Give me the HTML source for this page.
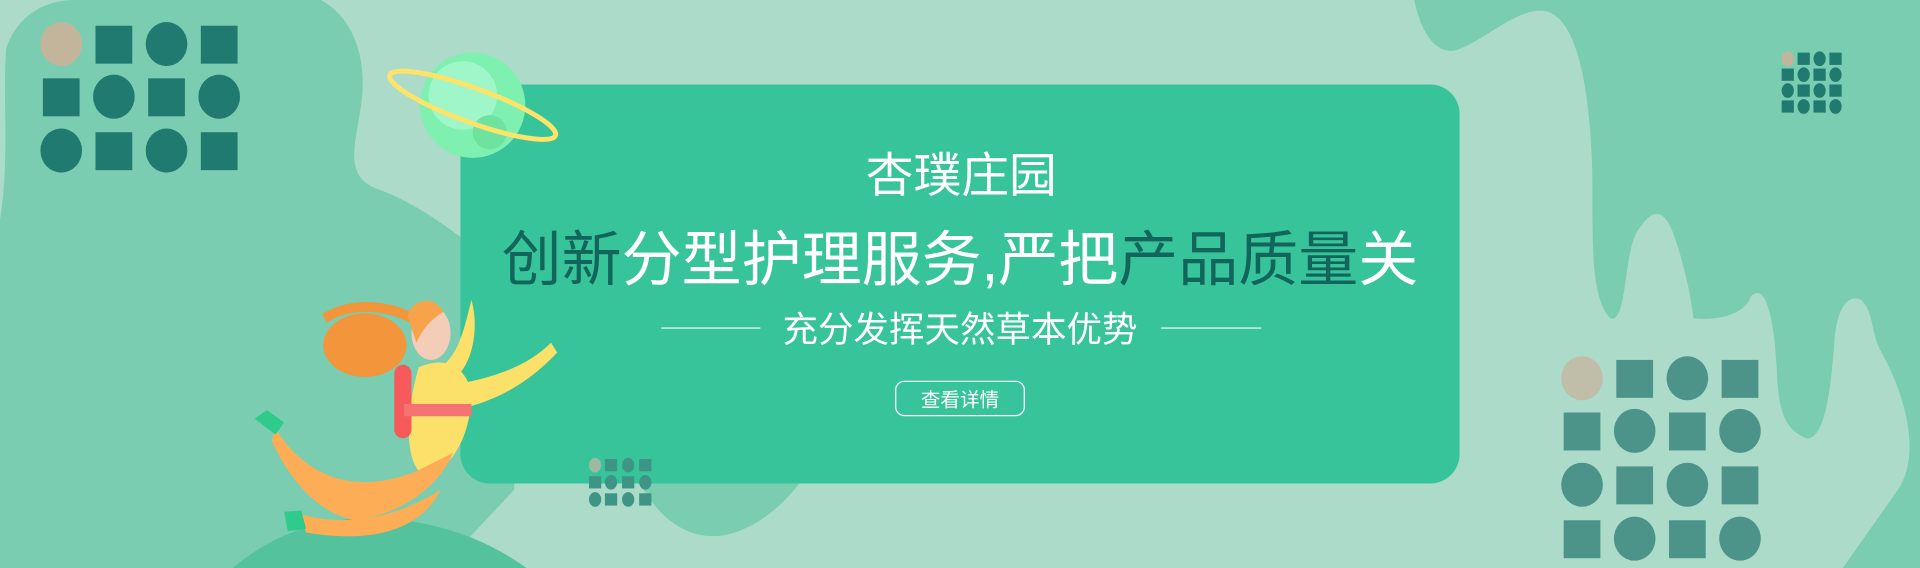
<!DOCTYPE html>
<html><head><meta charset="utf-8"><style>
html,body{margin:0;padding:0;width:1920px;height:568px;overflow:hidden;background:#acdbc9}
svg{display:block}
text{font-family:"Liberation Sans","Noto Sans CJK SC",sans-serif}
</style></head><body>
<svg width="1920" height="568" viewBox="0 0 1568 464" preserveAspectRatio="none">
<rect width="1568" height="464" fill="#acdbc9"/>
<path fill="#7acdb0" d="M5,40 C15,10 40,0 60,0 L262,0 C290,15 300,50 295,85 C290,120 280,145 310,155 C345,168 380,195 420,230 L420,400 L360,464 L0,464 L0,180 C8,130 2,80 5,40Z"/>
<path fill="#54c39d" d="M190,464 C230,430 280,418 330,425 C380,432 410,450 430,464Z"/>
<path fill="#7acdb0" d="M520,390 C540,430 570,445 600,435 C630,425 650,400 660,385 L520,385Z"/>
<path fill="#7acdb0" d="M1155,0 C1160,25 1172,45 1189,41 C1210,35 1240,5 1262,9 C1290,15 1298,80 1300,130 C1302,180 1296,240 1315,260 C1330,265 1325,200 1340,185 C1350,170 1360,170 1368,195 C1380,230 1383,260 1383,260 C1400,262 1425,258 1430,242 C1440,232 1448,250 1451,300 C1452,330 1455,350 1475,358 C1490,360 1495,320 1498,280 C1500,250 1510,240 1520,245 C1530,255 1528,270 1535,285 C1555,320 1570,370 1550,400 L1505,464 L1568,464 L1568,0Z"/>
<rect x="376" y="69" width="816" height="326" rx="24" fill="#38c49a"/>
<g>
<circle cx="386" cy="86" r="43" fill="#7ef0b0"/>
<circle cx="378" cy="78" r="28" fill="#a8f8cf" opacity="0.8"/>
<circle cx="400" cy="108" r="14" fill="#6ee3a0"/>
<ellipse cx="386" cy="86" rx="72" ry="14" transform="rotate(20 386 86)" fill="none" stroke="#fde36a" stroke-width="4"/>
</g>
<g>
<ellipse cx="298" cy="282" rx="34" ry="26" fill="#f3953b"/>
<path d="M265,260 C290,245 320,250 340,262" stroke="#f3953b" stroke-width="8" fill="none"/>
<ellipse cx="352" cy="272" rx="16" ry="22" fill="#f4cdb8"/>
<path d="M333,258 C335,245 355,240 362,255 C350,262 345,270 340,280Z" fill="#f7a34a"/>
<path d="M342,300 C365,290 380,300 385,320 C385,355 370,380 350,390 C330,385 330,340 342,300Z" fill="#fbe06a"/>
<path d="M385,245 C392,270 385,300 370,310 L360,300 C375,290 380,265 385,245Z" fill="#fbe06a"/>
<path d="M365,315 C400,310 430,300 450,280 L455,288 C430,315 400,330 370,335Z" fill="#fbe06a"/>
<rect x="322" y="298" width="14" height="60" rx="7" fill="#f75a5a"/>
<path d="M330,330 L385,330 L385,340 L330,340Z" fill="#f57373"/>
<path d="M225,350 C250,390 290,405 340,385 L370,370 C360,395 330,420 290,425 C260,420 235,390 222,360Z" fill="#fcad55"/>
<path d="M245,420 C280,430 320,425 360,400 C345,430 310,445 250,435Z" fill="#fcad55"/>
<path d="M208,342 L218,335 L232,345 L225,355Z" fill="#2ecb8c"/>
<path d="M232,418 L246,417 L250,432 L235,434Z" fill="#2ecb8c"/>
</g>
<g>
<ellipse cx="50" cy="36" rx="17" ry="18" fill="#c2b59b"/><rect x="78" y="21" width="30" height="31" fill="#217a70"/><ellipse cx="136" cy="36" rx="17" ry="18" fill="#217a70"/><rect x="164" y="21" width="30" height="31" fill="#217a70"/>
<rect x="35" y="64" width="30" height="31" fill="#217a70"/><ellipse cx="93" cy="79" rx="17" ry="18" fill="#217a70"/><rect x="121" y="64" width="30" height="31" fill="#217a70"/><ellipse cx="179" cy="79" rx="17" ry="18" fill="#217a70"/>
<ellipse cx="50" cy="123" rx="17" ry="18" fill="#217a70"/><rect x="78" y="108" width="30" height="31" fill="#217a70"/><ellipse cx="136" cy="123" rx="17" ry="18" fill="#217a70"/><rect x="164" y="108" width="30" height="31" fill="#217a70"/>
</g>
<g>
<ellipse cx="1460" cy="48" rx="5" ry="6" fill="#c2b59b"/><rect x="1468" y="43" width="10" height="10" fill="#217a70"/><ellipse cx="1486" cy="48" rx="5" ry="6" fill="#217a70"/><rect x="1494" y="43" width="10" height="10" fill="#217a70"/>
<rect x="1455" y="56" width="10" height="10" fill="#217a70"/><ellipse cx="1473" cy="61" rx="5" ry="6" fill="#217a70"/><rect x="1481" y="56" width="10" height="10" fill="#217a70"/><ellipse cx="1499" cy="61" rx="5" ry="6" fill="#217a70"/>
<ellipse cx="1460" cy="74" rx="5" ry="6" fill="#217a70"/><rect x="1468" y="69" width="10" height="10" fill="#217a70"/><ellipse cx="1486" cy="74" rx="5" ry="6" fill="#217a70"/><rect x="1494" y="69" width="10" height="10" fill="#217a70"/>
<rect x="1455" y="82" width="10" height="10" fill="#217a70"/><ellipse cx="1473" cy="87" rx="5" ry="6" fill="#217a70"/><rect x="1481" y="82" width="10" height="10" fill="#217a70"/><ellipse cx="1499" cy="87" rx="5" ry="6" fill="#217a70"/>
</g>
<g fill="#4c948a">
<ellipse cx="1292" cy="309" rx="17" ry="18" fill="#c0bda8"/><rect x="1320" y="294" width="30" height="31"/><ellipse cx="1378" cy="309" rx="17" ry="18"/><rect x="1406" y="294" width="30" height="31"/>
<rect x="1277" y="337" width="30" height="31"/><ellipse cx="1335" cy="352" rx="17" ry="18"/><rect x="1363" y="337" width="30" height="31"/><ellipse cx="1421" cy="352" rx="17" ry="18"/>
<ellipse cx="1292" cy="396" rx="17" ry="18"/><rect x="1320" y="381" width="30" height="31"/><ellipse cx="1378" cy="396" rx="17" ry="18"/><rect x="1406" y="381" width="30" height="31"/>
<rect x="1277" y="425" width="30" height="31"/><ellipse cx="1335" cy="440" rx="17" ry="18"/><rect x="1363" y="425" width="30" height="31"/><ellipse cx="1421" cy="440" rx="17" ry="18"/>
</g>
<g fill="#3f9585">
<ellipse cx="486" cy="380" rx="5" ry="6" fill="#9fb8a0"/><rect x="494" y="375" width="10" height="10"/><ellipse cx="513" cy="380" rx="5" ry="6"/><rect x="522" y="375" width="10" height="10"/>
<rect x="481" y="389" width="10" height="10"/><ellipse cx="499" cy="394" rx="5" ry="6"/><rect x="508" y="389" width="10" height="10"/><ellipse cx="527" cy="394" rx="5" ry="6"/>
<ellipse cx="486" cy="408" rx="5" ry="6"/><rect x="494" y="403" width="10" height="10"/><ellipse cx="513" cy="408" rx="5" ry="6"/><rect x="522" y="403" width="10" height="10"/>
</g>
<text x="785" y="157" text-anchor="middle" font-size="39" fill="#fff">杏璞庄园</text>
<text x="784" y="229" text-anchor="middle" font-size="49" fill="#fff"><tspan fill="#12655a">创新</tspan>分型护理服务,严把<tspan fill="#12655a">产品质量</tspan>关</text>
<line x1="540" y1="268" x2="621" y2="268" stroke="#fff" stroke-width="1"/>
<line x1="948" y1="268" x2="1030" y2="268" stroke="#fff" stroke-width="1"/>
<text x="784" y="279" text-anchor="middle" font-size="29" fill="#fff">充分发挥天然草本优势</text>
<g>
<rect x="731.5" y="311.5" width="105" height="28" rx="7" fill="none" stroke="#fff" stroke-width="1"/>
<text x="784" y="332" text-anchor="middle" font-size="16" fill="#fff">查看详情</text>
</g>
</svg>
</body></html>
